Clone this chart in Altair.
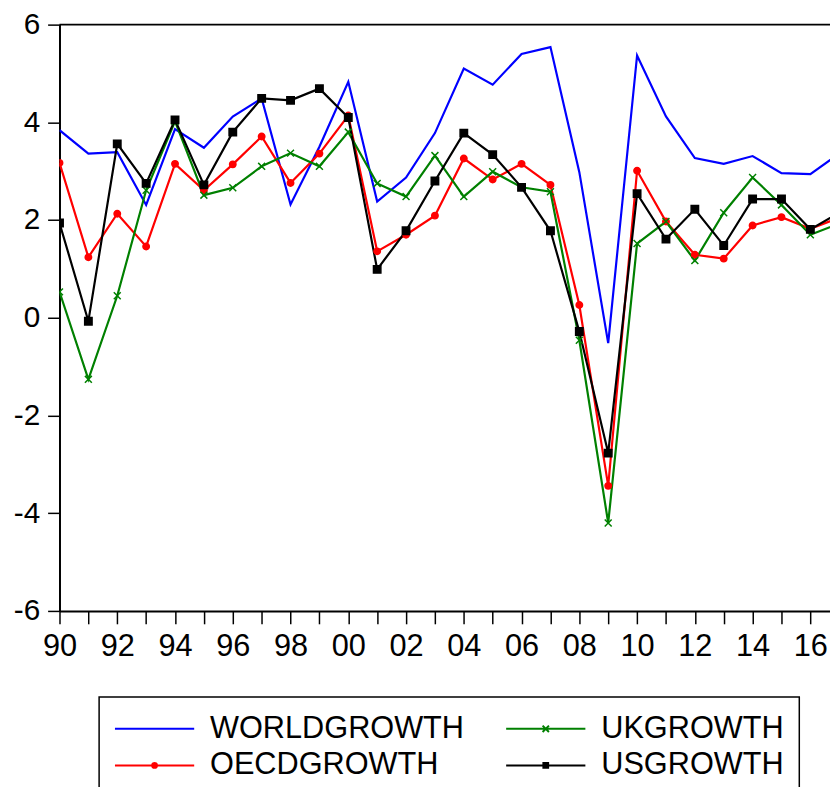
import altair as alt
import pandas as pd

years = list(range(1990, 2018))
world = [3.84, 3.36, 3.39, 2.31, 3.86, 3.48, 4.12, 4.49, 2.32, 3.50,
         4.83, 2.38, 2.87, 3.78, 5.10, 4.77, 5.40, 5.54, 2.98, -0.52,
         5.37, 4.12, 3.27, 3.15, 3.31, 2.96, 2.94, 3.36]
oecd = [3.17, 1.24, 2.13, 1.46, 3.15, 2.61, 3.14, 3.71, 2.76, 3.36,
        4.14, 1.36, 1.70, 2.09, 3.26, 2.83, 3.15, 2.72, 0.26, -3.44,
        3.01, 1.97, 1.29, 1.21, 1.89, 2.06, 1.82, 2.05]
uk = [0.53, -1.26, 0.45, 2.61, 4.02, 2.51, 2.66, 3.10, 3.37, 3.10,
      3.80, 2.75, 2.48, 3.32, 2.48, 2.99, 2.67, 2.58, -0.46, -4.20,
      1.52, 1.97, 1.17, 2.15, 2.87, 2.31, 1.70, 1.93]
us = [1.94, -0.07, 3.56, 2.75, 4.05, 2.72, 3.80, 4.49, 4.45, 4.69,
      4.10, 0.99, 1.78, 2.80, 3.78, 3.34, 2.67, 1.78, -0.28, -2.77,
      2.54, 1.61, 2.22, 1.48, 2.43, 2.43, 1.81, 2.15]

series_names = ["WORLDGROWTH", "OECDGROWTH", "UKGROWTH", "USGROWTH"]
series_colors = ["#0000FF", "#FF0000", "#008000", "#000000"]

marker_series = ["OECDGROWTH", "UKGROWTH", "USGROWTH"]
marker_colors = ["#FF0000", "#008000", "#000000"]
marker_shapes = ["circle", "M-1,-1L1,1M-1,1L1,-1", "square"]
marker_sizes = [42, 56, 40]

legend_paths = [
    "M-1,0L1,0",
    "M-1,0L1,0M0.06,0A0.06,0.06,0,1,1,-0.06,0A0.06,0.06,0,1,1,0.06,0Z",
    "M-1,0L1,0M-0.08,-0.08L0.08,0.08M-0.08,0.08L0.08,-0.08",
    "M-1,0L1,0M-0.06,-0.06L0.06,-0.06L0.06,0.06L-0.06,0.06Z",
]

x_ticks = list(range(1990, 2017))
y_ticks = [-6, -4, -2, 0, 2, 4, 6]
X_MIN, X_MAX = 1990, 2016.68
Y_MIN, Y_MAX = -6, 6

rows = []
for name, vals in zip(series_names, [world, oecd, uk, us]):
    for yr, v in zip(years, vals):
        rows.append({"year": yr, "series": name, "value": v})
df = pd.DataFrame(rows)

FONT = "Liberation Sans"

xscale = alt.Scale(domain=[X_MIN, X_MAX], nice=False, zero=False)
yscale = alt.Scale(domain=[Y_MIN, Y_MAX], nice=False, zero=False)

x_axis = alt.Axis(
    values=x_ticks, format="d",
    labelExpr="datum.value % 2 == 0 ? slice(datum.label, 2) : ''",
    title=None, grid=False, tickSize=13, tickWidth=1.5, domainWidth=2,
    labelFontSize=31, labelPadding=8, labelFlush=False, labelOverlap=False,
)
y_axis = alt.Axis(
    values=y_ticks, labelExpr="toString(datum.value)", title=None, grid=False,
    tickSize=12, tickWidth=1.5, domainWidth=2, labelFontSize=30,
    labelPadding=8, labelFlush=False, labelOverlap=False,
)

X = alt.X("year:Q", scale=xscale, axis=x_axis)
Y = alt.Y("value:Q", scale=yscale, axis=y_axis)

lines = alt.Chart(df).mark_line(strokeWidth=2.2, clip=True).encode(
    x=X, y=Y,
    color=alt.Color("series:N", scale=alt.Scale(domain=series_names, range=series_colors), legend=None),
    detail="series:N",
)

points = alt.Chart(df).transform_filter(
    alt.FieldOneOfPredicate(field="series", oneOf=marker_series)
).mark_point(strokeWidth=1.5, opacity=1, clip=True).encode(
    x=X, y=Y,
    shape=alt.Shape("series:N", scale=alt.Scale(domain=marker_series, range=marker_shapes), legend=None),
    fill=alt.Fill("series:N", scale=alt.Scale(domain=marker_series, range=marker_colors), legend=None),
    stroke=alt.Stroke("series:N", scale=alt.Scale(domain=marker_series, range=marker_colors), legend=None),
    size=alt.Size("series:N", scale=alt.Scale(domain=marker_series, range=marker_sizes), legend=None),
)

leg = alt.Legend(
    title=None, orient="none", legendX=40, legendY=679, columns=2,
    columnPadding=41, rowPadding=3, clipHeight=34, symbolSize=6400,
    symbolStrokeWidth=2, symbolOpacity=1, labelFont=FONT, labelFontSize=31,
    labelColor="black", labelOffset=15, labelLimit=600, padding=15,
    strokeColor="black",
)

legend_layer = alt.Chart(df).mark_point(opacity=0, clip=True).encode(
    x=X, y=Y,
    shape=alt.Shape("series:N", scale=alt.Scale(domain=series_names, range=legend_paths), legend=leg),
    fill=alt.Fill("series:N", scale=alt.Scale(domain=series_names, range=series_colors), legend=leg),
    stroke=alt.Stroke("series:N", scale=alt.Scale(domain=series_names, range=series_colors), legend=leg),
)

top_line = alt.Chart(pd.DataFrame({"top": [Y_MAX]})).mark_rule(
    color="black", strokeWidth=2
).encode(y=alt.Y("top:Q", scale=yscale, axis=y_axis))

chart = alt.layer(lines, points, legend_layer, top_line).resolve_scale(
    shape="independent", fill="independent", stroke="independent",
    size="independent", color="independent",
).properties(
    width=778, height=592,
    autosize=alt.AutoSizeParams(type="none"),
    padding={"left": 52, "top": 13, "right": 0, "bottom": 174},
).configure_view(stroke=None).configure_axis(
    labelFont=FONT, labelColor="black", domainColor="black", tickColor="black",
).configure_legend(strokeWidth=1.5)

chart.save("out.html", embed_options={"renderer": "svg", "actions": False})
